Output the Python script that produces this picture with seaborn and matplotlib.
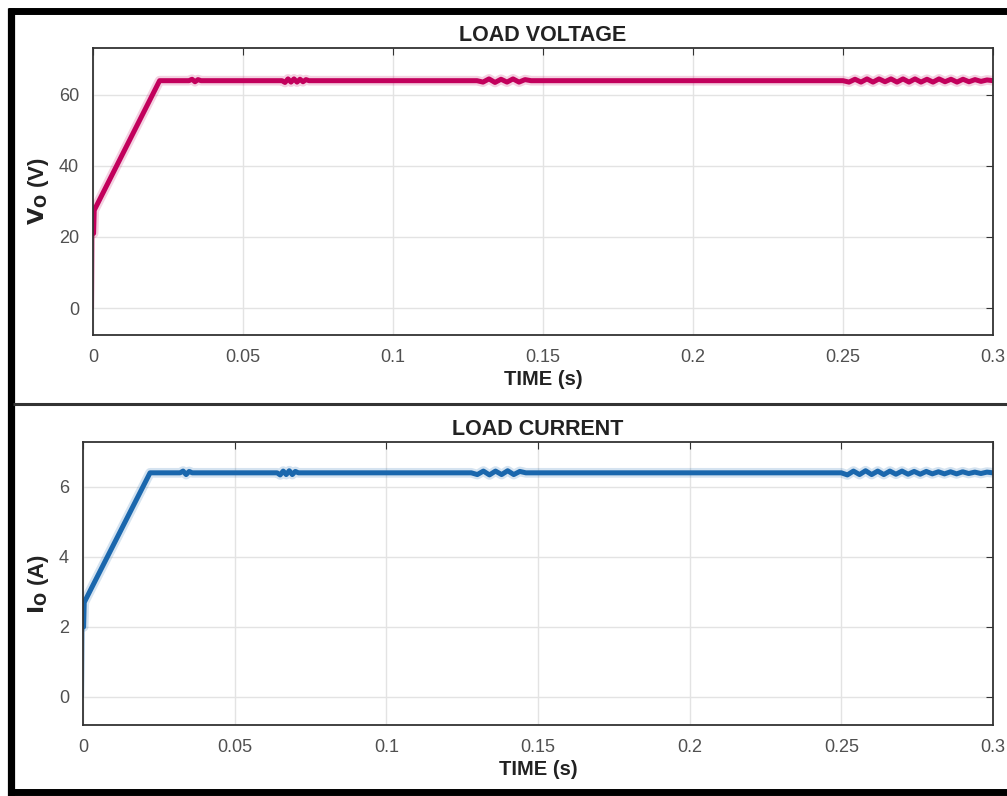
import matplotlib
matplotlib.use("Agg")
import matplotlib.pyplot as plt
from matplotlib.lines import Line2D
import seaborn as sns

# load voltage (V) vs time (s)
v_time = [0.0, 0.0002, 0.0004, 0.0222,
          0.032, 0.033, 0.034, 0.035, 0.036,
          0.063, 0.064, 0.065, 0.066, 0.067, 0.068, 0.069, 0.070, 0.071, 0.072,
          0.128, 0.130, 0.132, 0.134, 0.136, 0.138, 0.140, 0.142, 0.144, 0.146,
          0.250, 0.252, 0.254, 0.256, 0.258, 0.260, 0.262, 0.264, 0.266, 0.268,
          0.270, 0.272, 0.274, 0.276, 0.278, 0.280, 0.282, 0.284, 0.286, 0.288,
          0.290, 0.292, 0.294, 0.296, 0.298, 0.300]
v_load = [0.0, 21.0, 27.5, 64.0,
          64.0, 64.4, 63.7, 64.3, 64.0,
          64.0, 63.5, 64.5, 63.6, 64.5, 63.6, 64.4, 63.7, 64.3, 64.0,
          64.0, 63.6, 64.5, 63.5, 64.4, 63.6, 64.5, 63.6, 64.3, 64.0,
          64.0, 63.6, 64.4, 63.6, 64.5, 63.6, 64.5, 63.7, 64.5, 63.6,
          64.5, 63.6, 64.5, 63.6, 64.4, 63.6, 64.5, 63.7, 64.4, 63.6,
          64.4, 63.7, 64.3, 63.8, 64.2, 64.0]

# load current (A) vs time (s)
i_time = [0.0, 0.0002, 0.0004, 0.0221,
          0.032, 0.033, 0.034, 0.035, 0.036,
          0.064, 0.065, 0.066, 0.067, 0.068, 0.069, 0.070, 0.071,
          0.128, 0.130, 0.132, 0.134, 0.136, 0.138, 0.140, 0.142, 0.144, 0.146,
          0.250, 0.252, 0.254, 0.256, 0.258, 0.260, 0.262, 0.264, 0.266, 0.268,
          0.270, 0.272, 0.274, 0.276, 0.278, 0.280, 0.282, 0.284, 0.286, 0.288,
          0.290, 0.292, 0.294, 0.296, 0.298, 0.300]
i_load = [0.0, 2.0, 2.7, 6.4,
          6.4, 6.45, 6.35, 6.44, 6.4,
          6.4, 6.34, 6.45, 6.35, 6.46, 6.35, 6.44, 6.4,
          6.4, 6.35, 6.45, 6.34, 6.45, 6.35, 6.46, 6.35, 6.44, 6.4,
          6.4, 6.34, 6.45, 6.35, 6.46, 6.35, 6.45, 6.35, 6.45, 6.36,
          6.45, 6.36, 6.44, 6.36, 6.44, 6.37, 6.43, 6.37, 6.43, 6.37,
          6.43, 6.38, 6.42, 6.38, 6.42, 6.4]

x_ticks = [0, 0.05, 0.1, 0.15, 0.2, 0.25, 0.3]
x_ticklabels = ["0", "0.05", "0.1", "0.15", "0.2", "0.25", "0.3"]
v_ticks = [0, 20, 40, 60]
i_ticks = [0, 2, 4, 6]

sns.set_style("white")
plt.rcParams["font.family"] = ["Liberation Sans", "DejaVu Sans"]

fig = plt.figure(figsize=(10.07, 7.96), dpi=100)
W, H = 1007, 796

def px_axes(left, top, right, bottom):
    return fig.add_axes([left / W, 1 - bottom / H, (right - left) / W, (bottom - top) / H])

ax1 = px_axes(93, 48, 993, 335)
ax2 = px_axes(83, 442, 993, 725)

panels = [
    (ax1, v_time, v_load, "#c2005c", v_ticks, (-7.6, 73.2), r"$\mathbf{V_O}$ (V)", "LOAD VOLTAGE"),
    (ax2, i_time, i_load, "#1a67ad", i_ticks, (-0.8, 7.28), r"$\mathbf{I_O}$ (A)", "LOAD CURRENT"),
]

for ax, t, y, col, yt, ylim, ylab, title in panels:
    # thin initial jump at switch-on, then the thick trace
    sns.lineplot(x=t[:2], y=y[:2], ax=ax, color=col, alpha=0.6, linewidth=1.5,
                 estimator=None, sort=False)
    sns.lineplot(x=t[1:], y=y[1:], ax=ax, color=col, alpha=0.18, linewidth=7,
                 estimator=None, sort=False)
    sns.lineplot(x=t[1:], y=y[1:], ax=ax, color=col, linewidth=3.6,
                 estimator=None, sort=False)
    ax.set_xlim(0, 0.3)
    ax.set_ylim(*ylim)
    ax.set_xticks(x_ticks)
    ax.set_xticklabels(x_ticklabels)
    ax.set_yticks(yt)
    ax.grid(True, color="#e3e3e3", linewidth=1.0)
    ax.tick_params(direction="in", top=True, right=True, length=5,
                   colors="#333333", labelcolor="#505050", labelsize=13, pad=10)
    for s in ax.spines.values():
        s.set_color("#333333")
        s.set_linewidth(1.3)
    ax.set_xlabel("TIME (s)", fontsize=14.5, fontweight="bold", color="#222222", labelpad=3)
    ax.set_ylabel(ylab, fontsize=16, fontweight="bold", color="#222222", labelpad=6)
    ax.set_title(title, fontsize=15.5, fontweight="bold", color="#222222", pad=5)

# outer frame and panel separator
fig.add_artist(Line2D([10.5 / W, 10.5 / W], [0, 1 - 8 / H], color="black",
                      linewidth=5.2, solid_capstyle="butt"))
fig.add_artist(Line2D([8 / W, 1], [1 - 11 / H, 1 - 11 / H], color="black",
                      linewidth=5.0, solid_capstyle="butt"))
fig.add_artist(Line2D([8 / W, 1], [1 - 792 / H, 1 - 792 / H], color="black",
                      linewidth=5.0, solid_capstyle="butt"))
fig.add_artist(Line2D([13 / W, 1], [1 - 404 / H, 1 - 404 / H], color="#333333",
                      linewidth=2.2, solid_capstyle="butt"))

fig.savefig("out.png", dpi=100)
